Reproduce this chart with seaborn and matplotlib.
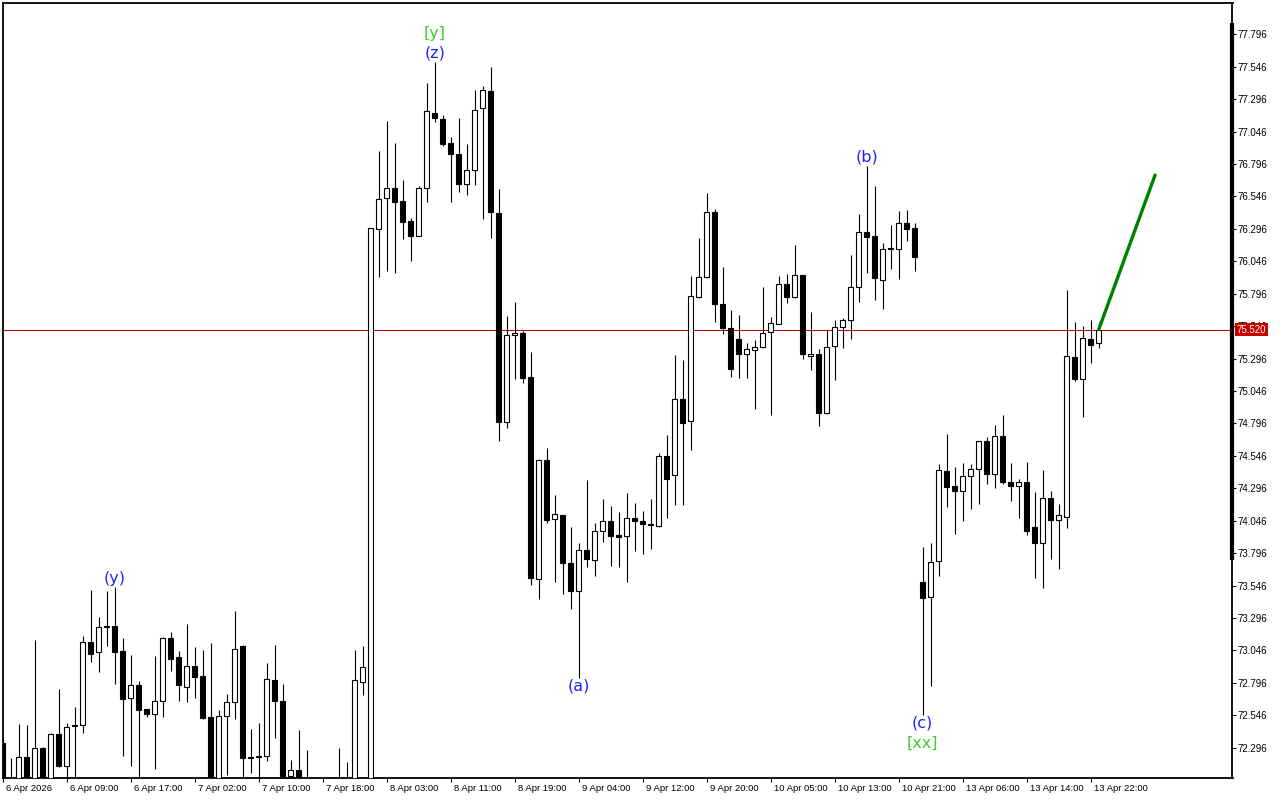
import matplotlib
matplotlib.use("Agg")
import matplotlib.pyplot as plt
import matplotlib.transforms as mtrans
import numpy as np
import pandas as pd
import seaborn as sns

# ---------------- data (hourly candles) ----------------
opens = [72.334, 72.000, 71.980, 72.222, 71.990, 72.291, 72.000, 72.401, 72.157, 72.460,
         72.468, 73.108, 73.036, 73.225, 73.232, 73.038, 72.676, 72.777, 72.592, 72.558,
         72.658, 73.139, 72.993, 72.761, 72.923, 72.846, 72.532, 72.065, 72.540, 72.650,
         73.080, 72.225, 72.224, 72.234, 72.818, 72.656, 72.080, 72.121, 71.980, 71.950,
         71.970, 71.940, 72.050, 71.990, 72.000, 72.805, 71.950, 76.297, 76.532, 76.609,
         76.511, 76.357, 76.243, 76.609, 77.187, 77.143, 76.956, 76.871, 76.644, 76.747,
         77.226, 77.359, 76.416, 74.809, 75.481, 75.493, 75.152, 73.594, 74.512, 74.057,
         74.088, 73.717, 73.506, 73.818, 73.741, 73.964, 74.041, 73.936, 73.930, 74.067,
         74.041, 74.020, 74.005, 74.545, 74.396, 74.984, 74.811, 75.768, 75.922, 76.426,
         75.714, 75.529, 75.447, 75.329, 75.360, 75.383, 75.498, 75.560, 75.869, 75.773,
         75.938, 75.313, 75.329, 74.874, 75.391, 75.537, 75.591, 75.845, 76.269, 76.241,
         75.899, 76.140, 76.143, 76.339, 76.300, 73.571, 73.459, 73.738, 74.427, 74.311,
         74.277, 74.393, 74.442, 74.658, 74.408, 74.697, 74.342, 74.311, 74.342, 73.995,
         73.871, 74.218, 74.053, 74.077, 75.306, 75.141, 75.444, 75.414]
highs = [72.360, 72.216, 72.478, 72.473, 73.126, 72.301, 72.409, 72.748, 72.484, 72.609,
         73.157, 73.511, 73.303, 73.504, 73.537, 73.139, 73.010, 72.810, 72.595, 73.002,
         73.151, 73.188, 73.041, 73.249, 73.070, 73.051, 73.103, 72.587, 72.707, 73.349,
         73.087, 72.440, 72.484, 72.948, 73.087, 72.787, 72.201, 72.432, 72.278, 72.020,
         72.030, 72.040, 72.291, 72.186, 73.049, 73.080, 76.300, 76.896, 77.128, 76.956,
         76.673, 76.377, 76.626, 77.423, 77.580, 77.174, 77.007, 77.148, 76.950, 77.367,
         77.397, 77.542, 76.601, 75.621, 75.732, 75.505, 75.347, 74.522, 74.604, 74.244,
         74.090, 73.997, 73.871, 74.360, 74.026, 74.213, 74.159, 74.115, 74.262, 74.182,
         74.123, 74.213, 74.570, 74.707, 75.321, 75.285, 75.933, 76.226, 76.575, 76.447,
         76.002, 75.668, 75.632, 75.414, 75.439, 75.848, 75.614, 75.933, 75.948, 76.171,
         75.940, 75.655, 75.367, 75.516, 75.593, 75.606, 76.094, 76.411, 76.781, 76.626,
         76.185, 76.326, 76.434, 76.441, 76.341, 73.845, 73.871, 74.483, 74.714, 74.458,
         74.491, 74.483, 74.660, 74.689, 74.782, 74.861, 74.491, 74.370, 74.496, 74.265,
         74.435, 74.272, 74.175, 75.825, 75.576, 75.547, 75.591, 75.580]
lows = [71.900, 71.900, 71.930, 71.920, 71.950, 71.950, 71.960, 72.149, 72.020, 72.000,
        72.411, 72.958, 72.881, 73.083, 72.789, 72.229, 72.155, 72.030, 72.534, 72.132,
        72.534, 72.886, 72.656, 72.650, 72.681, 72.517, 71.980, 71.990, 72.085, 72.515,
        71.980, 72.103, 72.030, 72.193, 72.368, 71.990, 72.050, 71.920, 71.900, 71.880,
        71.890, 71.900, 71.980, 71.950, 71.950, 72.702, 71.900, 75.927, 75.974, 75.958,
        76.218, 76.050, 76.240, 76.505, 77.122, 76.937, 76.505, 76.580, 76.559, 76.637,
        76.374, 76.228, 74.663, 74.757, 75.141, 75.111, 73.548, 73.440, 74.031, 73.576,
        73.478, 73.363, 72.831, 73.687, 73.622, 73.884, 73.697, 73.691, 73.576, 73.815,
        73.789, 73.825, 73.999, 74.069, 74.167, 74.167, 74.591, 75.766, 75.920, 75.580,
        75.488, 75.156, 75.148, 75.148, 74.905, 75.375, 74.861, 75.559, 75.727, 75.765,
        75.290, 75.208, 74.778, 74.872, 75.131, 75.380, 75.449, 75.734, 75.958, 75.747,
        75.681, 75.989, 75.912, 76.205, 75.973, 72.550, 72.772, 73.620, 74.154, 73.943,
        74.046, 74.136, 74.175, 74.331, 74.300, 74.327, 74.200, 74.069, 73.938, 73.606,
        73.529, 73.748, 73.676, 73.992, 75.125, 74.848, 75.264, 75.380]
closes = [71.980, 71.960, 72.222, 71.990, 72.291, 72.000, 72.401, 72.157, 72.453, 72.470,
          73.108, 73.020, 73.224, 73.232, 73.036, 72.673, 72.777, 72.589, 72.558, 72.653,
          73.139, 72.982, 72.780, 72.923, 72.843, 72.527, 72.050, 72.540, 72.650, 73.054,
          72.219, 72.220, 72.229, 72.823, 72.658, 72.080, 72.121, 71.980, 71.950, 71.970,
          71.940, 72.010, 72.060, 72.020, 72.818, 72.916, 76.300, 76.524, 76.609, 76.505,
          76.351, 76.243, 76.609, 77.205, 77.148, 76.950, 76.871, 76.644, 76.747, 77.210,
          77.367, 76.424, 74.809, 75.475, 75.491, 75.148, 73.607, 74.512, 74.049, 74.096,
          73.722, 73.506, 73.818, 73.748, 73.964, 74.041, 73.930, 73.923, 74.064, 74.041,
          74.018, 74.016, 74.545, 74.370, 74.984, 74.802, 75.778, 75.922, 76.426, 75.719,
          75.534, 75.218, 75.329, 75.367, 75.383, 75.491, 75.568, 75.869, 75.773, 75.938,
          75.333, 75.329, 74.874, 75.383, 75.537, 75.591, 75.845, 76.269, 76.235, 75.915,
          76.143, 76.146, 76.339, 76.297, 76.081, 73.452, 73.730, 74.435, 74.303, 74.277,
          74.388, 74.442, 74.658, 74.408, 74.697, 74.347, 74.311, 74.342, 73.969, 73.876,
          74.218, 74.053, 74.087, 75.313, 75.141, 75.452, 75.403, 75.520]

x_tick_pos = [0, 8, 16, 24, 32, 40, 48, 56, 64, 72, 80, 88, 96, 104, 112, 120, 128, 136]
x_tick_labels = ["6 Apr 2026", "6 Apr 09:00", "6 Apr 17:00", "7 Apr 02:00", "7 Apr 10:00",
                 "7 Apr 18:00", "8 Apr 03:00", "8 Apr 11:00", "8 Apr 19:00", "9 Apr 04:00",
                 "9 Apr 12:00", "9 Apr 20:00", "10 Apr 05:00", "10 Apr 13:00", "10 Apr 21:00",
                 "13 Apr 06:00", "13 Apr 14:00", "13 Apr 22:00"]
y_ticks = [72.296, 72.546, 72.796, 73.046, 73.296, 73.546, 73.796, 74.046, 74.296, 74.546,
           74.796, 75.046, 75.296, 75.546, 75.796, 76.046, 76.296, 76.546, 76.796, 77.046,
           77.296, 77.546, 77.796]
y_tick_labels = ["72.296", "72.546", "72.796", "73.046", "73.296", "73.546", "73.796", "74.046",
                 "74.296", "74.546", "74.796", "75.046", "75.296", "75.546", "75.796", "76.046",
                 "76.296", "76.546", "76.796", "77.046", "77.296", "77.546", "77.796"]
current_price = 75.520
current_price_label = "75.520"

arrow_x = [137, 144.04]
arrow_y = [75.520, 76.711]

wave_labels = ["(y)", "[y]", "(z)", "(a)", "(b)", "(c)", "[xx]"]
wave_x = [14, 54, 54, 72, 108, 115, 115]
wave_y = [73.604, 77.806, 77.652, 72.771, 76.850, 72.486, 72.332]
wave_kind = ["minor", "major", "minor", "minor", "minor", "minor", "major"]

# ---------------- plotting ----------------
sns.set_theme(style="white")
plt.rcParams['font.family'] = ['Liberation Sans', 'DejaVu Sans']

BLUE = "#1f1fff"
GREEN = "#3fcc2a"

fig = plt.figure(figsize=(12.8, 8), dpi=100)
fig.patch.set_facecolor("white")
ax = fig.add_axes([2.7 / 1280, 22 / 800, 1229.8 / 1280, 775.3 / 800])
ax.set_facecolor("white")

df = pd.DataFrame({"idx": np.arange(len(opens)), "open": opens, "high": highs,
                   "low": lows, "close": closes})
bull = df["close"] >= df["open"]
body_bottom = np.minimum(df["open"], df["close"])
body_height = np.maximum(np.abs(df["close"] - df["open"]), 0.003)

ax.axhline(current_price, color="#b40000", lw=0.75, zorder=1)
ax.vlines(df["idx"], df["low"], df["high"], color="black", lw=0.8, zorder=2)
ax.bar(df["idx"], body_height, bottom=body_bottom, width=0.62,
       color=np.where(bull, "white", "black"), edgecolor="black", linewidth=0.8, zorder=3)

sns.lineplot(x=arrow_x, y=arrow_y, color="#008000", lw=2.4, ax=ax, zorder=5)

for s, xx, yy, kind in zip(wave_labels, wave_x, wave_y, wave_kind):
    ax.text(xx, yy, s, color=BLUE if kind == "minor" else GREEN, ha="center", va="center",
            fontsize=11.5, family=["DejaVu Sans"], zorder=6)

ax.set_xlim(0, 153.72)
ax.set_ylim(72.062, 78.040)
ax.set_xlabel("")
ax.set_ylabel("")

# y axis on the right
ax.set_yticks(y_ticks)
ax.set_yticklabels(y_tick_labels)
ax.tick_params(axis="y", left=False, right=True, labelleft=False, labelright=True,
               direction="out", length=3, width=0.8, pad=0.8, labelsize=7,
               colors="black")
# x axis
ax.set_xticks(x_tick_pos)
ax.set_xticklabels(x_tick_labels, ha="left")
ax.tick_params(axis="x", bottom=True, direction="out", length=3, width=0.8, pad=1.5,
               labelsize=6.8, colors="black")
offset = mtrans.ScaledTranslation(3 / 100, 0, fig.dpi_scale_trans)
for lbl in ax.get_xticklabels():
    lbl.set_transform(lbl.get_transform() + offset)

for sp in ax.spines.values():
    sp.set_visible(True)
    sp.set_color("black")
    sp.set_linewidth(1.3)

# thick bar on the price scale
ax.plot([1, 1], [0.2812, 0.9738], transform=ax.transAxes, color="black", lw=3,
        clip_on=False, solid_capstyle="butt", zorder=7)

# current price tag
blend = mtrans.blended_transform_factory(ax.transAxes, ax.transData)
ax.text(1.0033, current_price, current_price_label, transform=blend, ha="left", va="center",
        color="white", fontsize=7, zorder=20, clip_on=False,
        bbox=dict(boxstyle="square,pad=0.18", fc="#c80000", ec="none"))

ax.grid(False)
fig.savefig("out.png", dpi=100, facecolor="white")
